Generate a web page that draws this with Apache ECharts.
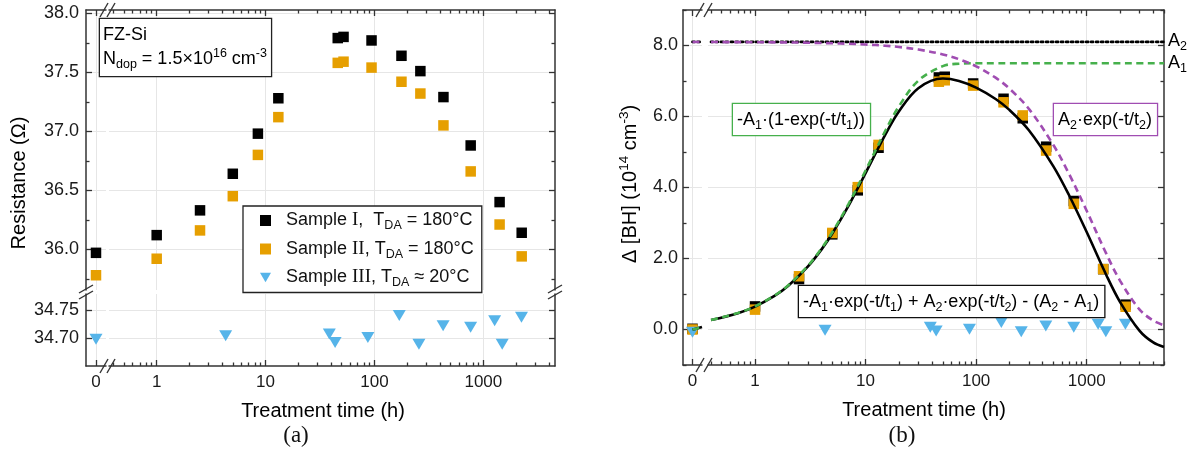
<!DOCTYPE html>
<html>
<head>
<meta charset="utf-8">
<script src="https://cdn.jsdelivr.net/npm/echarts@6/dist/echarts.min.js"></script>
<style>
  html, body { margin: 0; padding: 0; background: #fff; }
  #chart { width: 1199px; height: 456px; }
</style>
</head>
<body>
<div id="chart"></div>
<script>
// ---- values ----
// (a) resistance, samples I and II share the measurement times
var timesI = [0, 1, 2.5, 5, 8.5, 13.1, 46, 52, 94, 177, 264, 430, 765, 1410, 2250];
var resistI = [35.97, 36.12, 36.33, 36.64, 36.98, 37.28, 37.79, 37.80, 37.77, 37.64, 37.51, 37.29, 36.88, 36.40, 36.14];
var resistII = [35.78, 35.92, 36.16, 36.45, 36.80, 37.12, 37.58, 37.59, 37.54, 37.42, 37.32, 37.05, 36.66, 36.21, 35.94];
var timesIII = [0, 4.3, 38.5, 43.5, 87, 169, 256, 427, 764, 1270, 1490, 2240];
var resistIII = [34.698, 34.704, 34.707, 34.692, 34.701, 34.740, 34.689, 34.722, 34.719, 34.731, 34.689, 34.737];

// (b) delta [BH] in 1e14 cm^-3
var deltaI = [0.02, 0.65, 1.42, 2.68, 3.92, 5.12, 7.10, 7.12, 6.93, 6.50, 5.95, 5.15, 3.62, 1.70, 0.70];
var deltaII = [0.0, 0.56, 1.50, 2.72, 4.01, 5.20, 6.98, 7.02, 6.87, 6.40, 6.03, 5.04, 3.54, 1.70, 0.64];
var deltaIII = [-0.08, -0.02, 0.06, -0.04, 0.01, 0.20, -0.06, 0.10, 0.06, 0.15, -0.06, 0.15];

// fitted curves
var fitTimes = [0, 0.05, 0.1, 0.4, 0.7, 1, 1.5, 2, 3, 4, 5, 7, 10, 15, 20, 30, 50, 70, 100, 150, 200, 300, 500, 700, 1000, 1500, 2000, 3000, 4000, 5000];
var fitTotal = [0, 0.03, 0.07, 0.265, 0.458, 0.645, 0.945, 1.232, 1.769, 2.257, 2.703, 3.481, 4.407, 5.475, 6.141, 6.798, 7.069, 7.001, 6.813, 6.493, 6.186, 5.614, 4.596, 3.754, 2.745, 1.543, 0.779, -0.031, -0.365, -0.49];
var fitRise = [0, 0.03, 0.07, 0.268, 0.463, 0.652, 0.956, 1.246, 1.790, 2.286, 2.739, 3.531, 4.478, 5.582, 6.283, 7.010, 7.420, 7.487, 7.499, 7.5, 7.5, 7.5, 7.5, 7.5, 7.5, 7.5, 7.5, 7.5, 7.5, 7.5];
var fitDecay = [8.1, 8.1, 8.1, 8.097, 8.095, 8.093, 8.089, 8.086, 8.079, 8.071, 8.064, 8.05, 8.029, 7.994, 7.958, 7.888, 7.749, 7.614, 7.414, 7.093, 6.786, 6.214, 5.196, 4.354, 3.345, 2.143, 1.379, 0.569, 0.25, 0.12];
var levelTimes = [0, 0.1, 0.4, 5000];
var levelA2 = [8.1, 8.1, 8.1, 8.1];

// tick values
var resMajor = [36, 36.5, 37, 37.5, 38];
var resMinor = [35.75, 36.25, 36.75, 37.25, 37.75];
var resLowMajor = [34.70, 34.75];
var timeMajor = [1, 10, 100, 1000];
var timeMinor = [0.4, 0.5, 0.6, 0.7, 0.8, 0.9, 2, 3, 4, 5, 6, 7, 8, 9, 20, 30, 40, 50, 60, 70, 80, 90,
  200, 300, 400, 500, 600, 700, 800, 900, 2000, 3000, 4000, 5000];
var deltaMajor = [0, 2, 4, 6, 8];
var deltaMinor = [-1, 1, 3, 5, 7, 9];

var SANS = 'Liberation Sans, Arial, sans-serif';
var SERIF = 'Liberation Serif, Times New Roman, serif';
var AXIS_C = '#333';
var GRID_C = '#e6e6e6';
var GREEN = '#46b04c';
var PURPLE = '#a04db2';

var chart = echarts.init(document.getElementById('chart'));

var grids = [
  {left: 86, top: 10, width: 20, height: 280},   // a: t = 0, upper
  {left: 109, top: 10, width: 446, height: 280}, // a: log t, upper
  {left: 86, top: 294, width: 20, height: 72},   // a: t = 0, lower
  {left: 109, top: 294, width: 446, height: 72}, // a: log t, lower
  {left: 683, top: 10, width: 19, height: 355},  // b: t = 0
  {left: 708, top: 10, width: 456, height: 355}  // b: log t
].map(function (g) { g.outerBoundsMode = 'none'; g.containLabel = false; return g; });

var xAxes = [], yAxes = [];
function axis(list, grid, pos, type, range, o) {
  var a = {
    gridIndex: grid, position: pos, type: type, min: range[0], max: range[1],
    axisLine: {show: o.line !== false, onZero: false, lineStyle: {color: AXIS_C, width: 1.5}},
    axisTick: {show: !!o.ticks, inside: true, length: o.len || 6, customValues: o.ticks || [],
      lineStyle: {color: AXIS_C, width: 1.3}},
    axisLabel: o.fmt ? {show: true, customValues: o.ticks, formatter: o.fmt, color: '#1a1a1a',
      fontFamily: SANS, fontSize: o.fs || 17, margin: o.margin || 8} : {show: false},
    splitLine: {show: !!o.split, lineStyle: {color: GRID_C, width: 1}},
    minorTick: {show: false}, minorSplitLine: {show: false}
  };
  if (type === 'log') a.logBase = 10;
  list.push(a);
  return list.length - 1;
}

var T_ZERO = [-0.1, 0.1];
var T_LOG_A = [0.3648, 4550];
var T_LOG_B = [0.3755, 5005];
var R_UP = [35.655, 38.028];
var R_LOW = [34.65, 34.7786];
var D_RNG = [-1, 9];
var f1 = function (v) { return v.toFixed(1); };
var f2 = function (v) { return v.toFixed(2); };
var fs = function (v) { return String(v); };

// panel (a)
var xA = axis(xAxes, 0, 'top', 'value', T_ZERO, {ticks: [0], split: true});
var yA = axis(yAxes, 0, 'left', 'value', R_UP, {ticks: resMajor, fmt: f1, split: true, fs: 18, margin: 7});
axis(yAxes, 0, 'left', 'value', R_UP, {line: false, ticks: resMinor, len: 3.5});
var xB = axis(xAxes, 1, 'top', 'log', T_LOG_A, {ticks: timeMajor, split: true});
axis(xAxes, 1, 'top', 'log', T_LOG_A, {line: false, ticks: timeMinor, len: 3.5});
var yB = axis(yAxes, 1, 'right', 'value', R_UP, {ticks: resMajor, split: true});
axis(yAxes, 1, 'right', 'value', R_UP, {line: false, ticks: resMinor, len: 3.5});
var xC = axis(xAxes, 2, 'bottom', 'value', T_ZERO, {ticks: [0], fmt: fs, split: true});
var yC = axis(yAxes, 2, 'left', 'value', R_LOW, {ticks: resLowMajor, fmt: f2, split: true, fs: 18, margin: 7});
var xD = axis(xAxes, 3, 'bottom', 'log', T_LOG_A, {ticks: timeMajor, fmt: fs, split: true});
axis(xAxes, 3, 'bottom', 'log', T_LOG_A, {line: false, ticks: timeMinor, len: 3.5});
var yD = axis(yAxes, 3, 'right', 'value', R_LOW, {ticks: resLowMajor, split: true});

// panel (b)
var xE = axis(xAxes, 4, 'bottom', 'value', T_ZERO, {ticks: [0], fmt: fs, split: true});
axis(xAxes, 4, 'top', 'value', T_ZERO, {ticks: [0]});
var yE = axis(yAxes, 4, 'left', 'value', D_RNG, {ticks: deltaMajor, fmt: f1, split: true, fs: 18, margin: 5});
axis(yAxes, 4, 'left', 'value', D_RNG, {line: false, ticks: deltaMinor, len: 3.5});
var xF = axis(xAxes, 5, 'bottom', 'log', T_LOG_B, {ticks: timeMajor, fmt: fs, split: true});
axis(xAxes, 5, 'bottom', 'log', T_LOG_B, {line: false, ticks: timeMinor, len: 3.5});
axis(xAxes, 5, 'top', 'log', T_LOG_B, {ticks: timeMajor});
axis(xAxes, 5, 'top', 'log', T_LOG_B, {line: false, ticks: timeMinor, len: 3.5});
var yF = axis(yAxes, 5, 'right', 'value', D_RNG, {ticks: deltaMajor, split: true});
axis(yAxes, 5, 'right', 'value', D_RNG, {line: false, ticks: deltaMinor, len: 3.5});

// split a series into its t = 0 part and its log-axis part
function pts(ts, vs, zero) {
  var out = [];
  for (var i = 0; i < ts.length; i++) {
    if ((ts[i] < 0.3) === zero) out.push([ts[i], vs[i]]);
  }
  return out;
}

var series = [];
function addMarks(name, ts, vs, zeroAx, logAx, mark, z) {
  [[zeroAx, true], [logAx, false]].forEach(function (p) {
    series.push(Object.assign({
      name: name, type: 'scatter', xAxisIndex: p[0][0], yAxisIndex: p[0][1],
      data: pts(ts, vs, p[1]), z: z, silent: true, emphasis: {disabled: true}
    }, mark));
  });
}
function addCurve(name, ts, vs, zeroAx, logAx, line, z) {
  [[zeroAx, true], [logAx, false]].forEach(function (p) {
    series.push({
      name: name, type: 'line', xAxisIndex: p[0][0], yAxisIndex: p[0][1],
      data: pts(ts, vs, p[1]), showSymbol: false, symbol: 'none', smooth: 0.35,
      lineStyle: line, z: z, silent: true, emphasis: {disabled: true}
    });
  });
}

var SQ_BLACK = {symbol: 'rect', symbolSize: 10.5, itemStyle: {color: '#000', opacity: 1}};
var SQ_ORANGE = {symbol: 'rect', symbolSize: 10.5, itemStyle: {color: '#e69f00', opacity: 1}};
var TRI_BLUE = {symbol: 'triangle', symbolRotate: 180, symbolSize: [13, 11], itemStyle: {color: '#56b4e9', opacity: 1}};

addMarks('Sample I', timesI, resistI, [xA, yA], [xB, yB], SQ_BLACK, 3);
addMarks('Sample II', timesI, resistII, [xA, yA], [xB, yB], SQ_ORANGE, 3);
addMarks('Sample III', timesIII, resistIII, [xC, yC], [xD, yD], TRI_BLUE, 3);

addMarks('BH I', timesI, deltaI, [xE, yE], [xF, yF], SQ_BLACK, 2);
addMarks('BH II', timesI, deltaII, [xE, yE], [xF, yF], SQ_ORANGE, 2);
addMarks('BH III', timesIII, deltaIII, [xE, yE], [xF, yF], TRI_BLUE, 2);

addCurve('A2', levelTimes, levelA2, [xE, yE], [xF, yF], {color: '#000', width: 2.8, type: [2, 3], cap: 'round'}, 4);
addCurve('total', fitTimes, fitTotal, [xE, yE], [xF, yF], {color: '#000', width: 2.6}, 4);
addCurve('rise', fitTimes, fitRise, [xE, yE], [xF, yF], {color: GREEN, width: 2.6, type: [7, 4.5]}, 5);
addCurve('decay', fitTimes, fitDecay, [xE, yE], [xF, yF], {color: PURPLE, width: 2.6, type: [7, 4.5]}, 5);

var rich = {
  t: {fontFamily: SANS, fontSize: 18, lineHeight: 24, color: '#111'},
  t0: {fontFamily: SANS, fontSize: 18, lineHeight: 24, color: '#111', padding: [0, 0, 0, 10]},
  r: {fontFamily: SERIF, fontSize: 19, lineHeight: 24, color: '#111'},
  s: {fontFamily: SANS, fontSize: 12.5, lineHeight: 14, verticalAlign: 'bottom', color: '#111'},
  p: {fontFamily: SANS, fontSize: 12.5, lineHeight: 14, verticalAlign: 'top', color: '#111'},
  g: {fontFamily: SANS, fontSize: 18, lineHeight: 24, color: GREEN},
  gs: {fontFamily: SANS, fontSize: 12.5, lineHeight: 14, verticalAlign: 'bottom', color: GREEN},
  m: {fontFamily: SANS, fontSize: 18, lineHeight: 24, color: PURPLE},
  ms: {fontFamily: SANS, fontSize: 12.5, lineHeight: 14, verticalAlign: 'bottom', color: PURPLE},
  h: {fontFamily: SANS, fontSize: 20, lineHeight: 26, color: '#111'},
  hp: {fontFamily: SANS, fontSize: 13.5, lineHeight: 15, verticalAlign: 'top', color: '#111'}
};

var legendText = {
  'Sample I': '{t0|Sample }{r|I}{t|,  T}{s|DA}{t| = 180°C}',
  'Sample II': '{t0|Sample }{r|II}{t|, T}{s|DA}{t| = 180°C}',
  'Sample III': '{t0|Sample }{r|III}{t|, T}{s|DA}{t| ≈ 20°C}'
};

function slash(cx, cy, horizontalAxis) {
  var s = horizontalAxis ? {x1: cx - 4, y1: cy + 7, x2: cx + 4, y2: cy - 7}
                         : {x1: cx - 7, y1: cy + 4, x2: cx + 7, y2: cy - 4};
  return {type: 'line', shape: s, style: {stroke: AXIS_C, lineWidth: 1.4}, z: 20, silent: true};
}
function label(x, y, text, extra) {
  return {type: 'text', x: x, y: y, z: 20, silent: true,
    style: Object.assign({text: text, rich: rich, align: 'center', verticalAlign: 'middle'}, extra || {})};
}

var graphic = [
  slash(104, 10, true), slash(111, 10, true), slash(104, 366, true), slash(111, 366, true),
  slash(86, 289, false), slash(86, 295, false), slash(555, 289, false), slash(555, 295, false),
  slash(700, 10, true), slash(708, 10, true), slash(700, 365, true), slash(708, 365, true),
  label(19, 183, '{h|Resistance (Ω)}', {}),
  label(323, 411, '{h|Treatment time (h)}'),
  label(924, 410, '{h|Treatment time (h)}'),
  {type: 'text', x: 296, y: 436, z: 20, style: {text: '(a)', font: '23px ' + SERIF, fill: '#111', align: 'center', verticalAlign: 'middle'}},
  {type: 'text', x: 902, y: 436, z: 20, style: {text: '(b)', font: '23px ' + SERIF, fill: '#111', align: 'center', verticalAlign: 'middle'}},
  label(630, 184, '{h|Δ [BH] (10}{hp|14}{h| cm}{hp|-3}{h|)}'),
  {type: 'text', x: 100, y: 19, z: 20, style: {
    text: '{t|FZ-Si}\n{t|N}{s|dop}{t| = 1.5×10}{p|16}{t| cm}{p|-3}', rich: rich,
    borderColor: '#222', borderWidth: 1.3, padding: [4, 4, 5, 3], backgroundColor: '#fff'}},
  {type: 'text', x: 733, y: 104, z: 20, style: {
    text: '{g|-A}{gs|1}{g|·(1-exp(-t/t}{gs|1}{g|))}', rich: rich,
    borderColor: GREEN, borderWidth: 1.3, padding: [4, 5, 3, 4], backgroundColor: '#fff'}},
  {type: 'text', x: 1054, y: 104, z: 20, style: {
    text: '{m|A}{ms|2}{m|·exp(-t/t}{ms|2}{m|)}', rich: rich,
    borderColor: PURPLE, borderWidth: 1.3, padding: [4, 5, 3, 4], backgroundColor: '#fff'}},
  {type: 'text', x: 799, y: 286, z: 20, style: {
    text: '{g|-A}{gs|1}{g|·exp(-t/t}{gs|1}{g|)}{t| + }{m|A}{ms|2}{m|·exp(-t/t}{ms|2}{m|)}{t| - (A}{s|2}{t| - A}{s|1}{t|)}',
    rich: rich, borderColor: '#111', borderWidth: 1.3, padding: [4, 5, 3, 4], backgroundColor: '#fff'}},
  {type: 'text', x: 1168, y: 41, z: 20, style: {text: '{t|A}{s|2}', rich: rich, verticalAlign: 'middle'}},
  {type: 'text', x: 1168, y: 63, z: 20, style: {text: '{t|A}{s|1}', rich: rich, verticalAlign: 'middle'}}
];
// rotate the two y-axis titles
graphic[12].rotation = Math.PI / 2;
graphic[17].rotation = Math.PI / 2;

chart.setOption({
  animation: false,
  textStyle: {fontFamily: SANS},
  grid: grids,
  xAxis: xAxes,
  yAxis: yAxes,
  legend: {
    data: [
      {name: 'Sample I', icon: 'rect'},
      {name: 'Sample II', icon: 'rect'},
      {name: 'Sample III', icon: 'path://M0,0L14,0L7,12Z'}
    ],
    orient: 'vertical', left: 243, top: 206,
    itemWidth: 11, itemHeight: 11, itemGap: 7,
    borderColor: '#222', borderWidth: 1.3, padding: [5, 8, 3, 17],
    backgroundColor: '#fff', selectedMode: false,
    formatter: function (name) { return legendText[name]; },
    textStyle: {rich: rich}
  },
  graphic: graphic,
  series: series
});
</script>
</body>
</html>
